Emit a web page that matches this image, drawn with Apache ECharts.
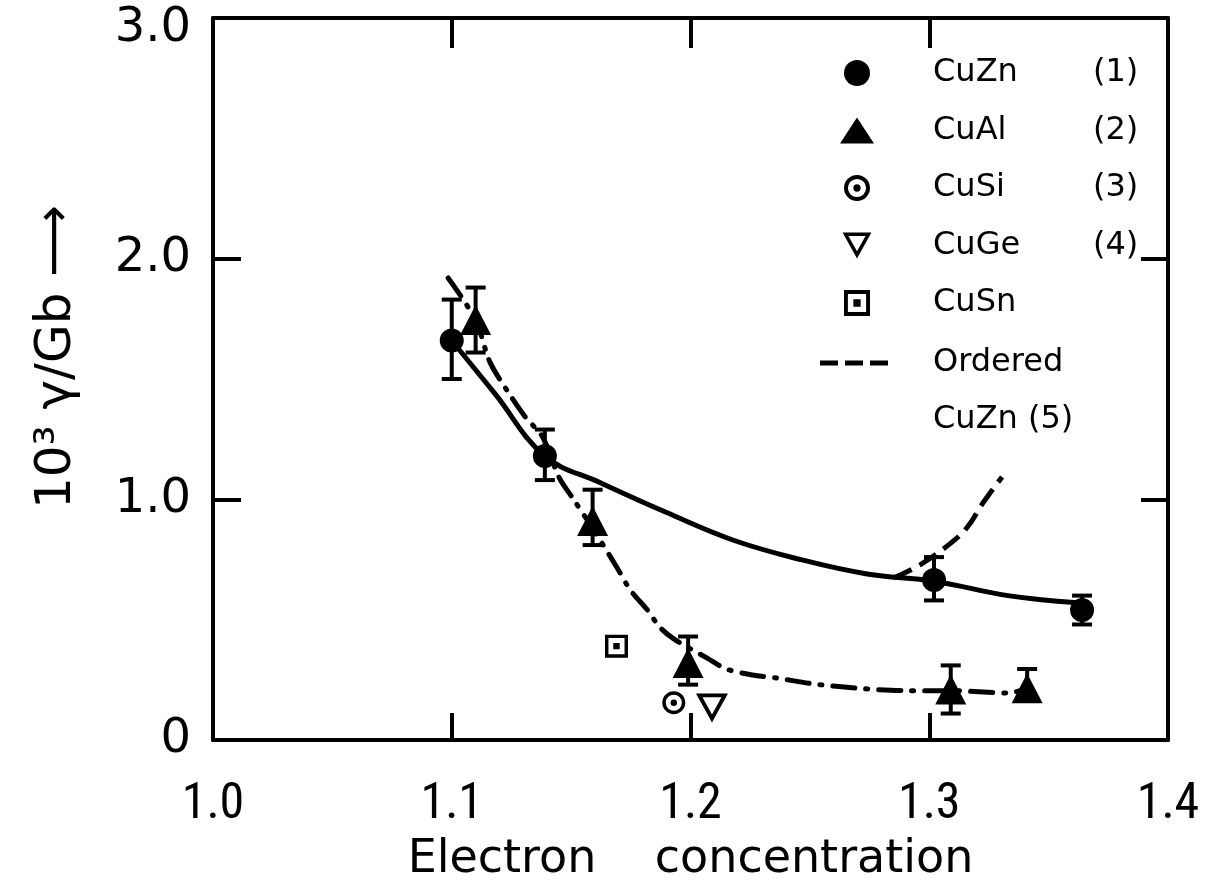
<!DOCTYPE html>
<html>
<head>
<meta charset="utf-8">
<script src="https://cdn.jsdelivr.net/npm/echarts@6/dist/echarts.min.js"></script>
<style>
  html, body { margin: 0; padding: 0; background: #fff; }
  #chart { width: 1209px; height: 886px; }
</style>
</head>
<body>
<div id="chart"></div>
<script>
// points: [electron concentration, 10^3 gamma/Gb]
var cuZnPts = [[1.100, 1.66], [1.139, 1.18], [1.302, 0.665], [1.364, 0.54]];
var cuZnErr = [[1.100, 1.83, 1.50], [1.139, 1.29, 1.08], [1.302, 0.76, 0.58], [1.364, 0.60, 0.48]];
var cuAlPts = [[1.110, 1.745], [1.159, 0.91], [1.199, 0.32], [1.309, 0.21], [1.341, 0.215]];
var cuAlErr = [[1.110, 1.88, 1.61], [1.159, 1.04, 0.81], [1.199, 0.43, 0.23], [1.309, 0.31, 0.11], [1.341, 0.295, 0.19]];
var cuSiPts = [[1.193, 0.155]];
var cuGePts = [[1.209, 0.133]];
var cuSnPts = [[1.169, 0.39]];

// hand drawn curves
var cuZnFit = [[1.100, 1.66], [1.118, 1.44], [1.139, 1.18], [1.162, 1.07],
  [1.190, 0.945], [1.218, 0.83], [1.246, 0.75], [1.274, 0.69], [1.302, 0.66], [1.333, 0.60], [1.362, 0.57]];
var cuAlFit = [[1.0985, 1.92], [1.110, 1.745], [1.116, 1.57], [1.124, 1.44], [1.131, 1.34], [1.138, 1.26],
  [1.145, 1.09], [1.151, 1.00], [1.159, 0.88], [1.169, 0.72], [1.175, 0.62], [1.182, 0.54], [1.187, 0.47],
  [1.193, 0.42], [1.207, 0.34], [1.215, 0.295], [1.226, 0.27], [1.236, 0.258], [1.250, 0.235],
  [1.270, 0.215], [1.290, 0.205], [1.309, 0.205], [1.333, 0.195], [1.341, 0.215]];
var orderedFit = [[1.285, 0.673], [1.296, 0.727], [1.309, 0.818], [1.316, 0.885], [1.3225, 0.985], [1.3305, 1.093]];

var xTickLabels = ['1.0', '1.1', '1.2', '1.3', '1.4'];
var yTickLabels = ['0', '1.0', '2.0', '3.0'];

var names = ['CuZn (1)', 'CuAl (2)', 'CuSi (3)', 'CuGe (4)', 'CuSn'];
var ordName = 'Ordered CuZn (5)';

// ring with dot, hollow down triangle, square with dot, three dashes
var ringDot = 'path://M50,0 A50,50 0 1,1 50,100 A50,50 0 1,1 50,0 Z M50,15 A35,35 0 1,0 50,85 A35,35 0 1,0 50,15 Z M50,36 A14,14 0 1,1 50,64 A14,14 0 1,1 50,36 Z';
var hollowDown = 'path://M0,0 L100,0 L50,90 Z M20.4,12 L50,65.3 L79.6,12 Z';
var squareDot = 'path://M0,0 H100 V100 H0 Z M15,15 V85 H85 V15 Z M36,36 H64 V64 H36 Z';
var dashIcon = 'path://M0,0 H18 V5 H0 Z M25,0 H43 V5 H25 Z M50,0 H68 V5 H50 Z';

var font = 'DejaVu Sans';
var narrow = '"Liberation Sans Narrow", "Roboto Condensed", "Liberation Sans", sans-serif';

function errRender(params, api) {
  var x = api.value(0);
  var top = api.coord([x, api.value(1)]);
  var bot = api.coord([x, api.value(2)]);
  var w = 10;
  var st = { stroke: '#000', lineWidth: 4 };
  return {
    type: 'group',
    children: [
      { type: 'line', shape: { x1: top[0], y1: top[1], x2: bot[0], y2: bot[1] }, style: st },
      { type: 'line', shape: { x1: top[0] - w, y1: top[1], x2: top[0] + w, y2: top[1] }, style: st },
      { type: 'line', shape: { x1: bot[0] - w, y1: bot[1], x2: bot[0] + w, y2: bot[1] }, style: st }
    ]
  };
}

function legendFmt(name) {
  if (name === ordName) return '{n| }\n{n|Ordered}\n{n|CuZn (5)}';
  var m = name.match(/^(\S+) (\(\d\))$/);
  return m ? '{n|' + m[1] + '}{k|' + m[2] + '}' : '{n|' + name + '}';
}

var legendText = {
  fontSize: 32, fontFamily: font, color: '#000',
  rich: {
    n: { fontSize: 32, fontFamily: font, color: '#000', width: 160, lineHeight: 57 },
    k: { fontSize: 32, fontFamily: font, color: '#000', lineHeight: 57 }
  }
};

var axisBase = {
  type: 'value', min: 1.0, max: 1.4, interval: 0.1,
  axisLine: { show: true, onZero: false, lineStyle: { color: '#000', width: 4 } },
  splitLine: { show: false }
};

var dom = document.getElementById('chart');
var myChart = echarts.init(dom);
var option = {
  animation: false,
  backgroundColor: '#fff',
  grid: { left: 213, right: 41, top: 18, bottom: 146, containLabel: false, outerBoundsMode: 'none' },
  legend: [{
    data: names,
    orient: 'vertical',
    left: 840, top: 57, padding: 0,
    itemWidth: 34, itemHeight: 26, itemGap: 25.5,
    selectedMode: false,
    formatter: legendFmt,
    textStyle: Object.assign({ padding: [0, 0, 0, 54] }, legendText)
  }, {
    data: [{ name: ordName, icon: dashIcon }],
    orient: 'vertical',
    left: 820, top: 290, padding: 0,
    itemWidth: 68, itemHeight: 5,
    selectedMode: false,
    formatter: legendFmt,
    textStyle: Object.assign({ padding: [0, 0, 0, 40] }, legendText)
  }],
  xAxis: [Object.assign({}, axisBase, {
    position: 'bottom',
    name: 'Electron    concentration',
    nameLocation: 'middle', nameGap: 97,
    nameTextStyle: { fontSize: 46, fontFamily: font, color: '#000' },
    axisTick: { inside: true, length: 27, lineStyle: { color: '#000', width: 4 } },
    axisLabel: {
      margin: 40, fontSize: 50, fontFamily: narrow, color: '#000',
      formatter: function (v) { return xTickLabels[Math.round((v - 1) * 10)]; }
    }
  }), Object.assign({}, axisBase, {
    position: 'top',
    axisTick: { inside: true, length: 30, lineStyle: { color: '#000', width: 4 } },
    axisLabel: { show: false }
  })],
  yAxis: [{
    type: 'value', min: 0, max: 3, interval: 1, position: 'left',
    name: '10³ γ/Gb ⟶',
    nameLocation: 'middle', nameGap: 131,
    nameTextStyle: { fontSize: 50, fontFamily: font, color: '#000', padding: [0, 0, 0, 44] },
    axisLine: { show: true, onZero: false, lineStyle: { color: '#000', width: 4 } },
    axisTick: { inside: true, length: 28, lineStyle: { color: '#000', width: 4 } },
    axisLabel: {
      margin: 22, fontSize: 48, fontFamily: font, color: '#000',
      formatter: function (v) {
        var i = Math.round(v);
        return i === 3 ? '{t|' + yTickLabels[i] + '}' : yTickLabels[i];
      },
      rich: { t: { fontSize: 48, fontFamily: font, color: '#000', padding: [22, 0, 0, 0] } }
    },
    splitLine: { show: false }
  }, {
    type: 'value', min: 0, max: 3, interval: 1, position: 'right',
    axisLine: { show: true, onZero: false, lineStyle: { color: '#000', width: 4 } },
    axisTick: { inside: true, length: 27, lineStyle: { color: '#000', width: 4 } },
    axisLabel: { show: false },
    splitLine: { show: false }
  }],
  series: [
    {
      name: 'CuZn fit', type: 'line', data: cuZnFit, smooth: 0.4, symbol: 'none', z: 2,
      lineStyle: { color: '#000', width: 5 }
    },
    {
      name: 'CuAl fit', type: 'line', data: cuAlFit, smooth: 0.3, symbol: 'none', z: 2,
      lineStyle: { color: '#000', width: 5, type: [22, 11, 2, 11], cap: 'round' }
    },
    {
      name: ordName, type: 'line', data: orderedFit, smooth: 0.4, symbol: 'none', z: 2,
      itemStyle: { color: '#000' },
      lineStyle: { color: '#000', width: 5, type: [20, 9] }
    },
    { name: 'CuZn err', type: 'custom', data: cuZnErr, renderItem: errRender, encode: { x: 0, y: [1, 2] }, z: 3 },
    { name: 'CuAl err', type: 'custom', data: cuAlErr, renderItem: errRender, encode: { x: 0, y: [1, 2] }, z: 3 },
    {
      name: names[0], type: 'scatter', data: cuZnPts, symbol: 'circle', symbolSize: 24, z: 4,
      itemStyle: { color: '#000', opacity: 1 }
    },
    {
      name: names[1], type: 'scatter', data: cuAlPts, symbol: 'triangle', symbolSize: [31, 30], z: 4,
      itemStyle: { color: '#000', opacity: 1 }
    },
    {
      name: names[2], type: 'scatter', data: cuSiPts, symbol: ringDot, symbolSize: 23, z: 4,
      itemStyle: { color: '#000', opacity: 1 }
    },
    {
      name: names[3], type: 'scatter', data: cuGePts, symbol: hollowDown, symbolSize: [32, 29], z: 4,
      itemStyle: { color: '#000', opacity: 1 }
    },
    {
      name: names[4], type: 'scatter', data: cuSnPts, symbol: squareDot, symbolSize: 23, z: 4,
      itemStyle: { color: '#000', opacity: 1 }
    }
  ]
};
myChart.setOption(option, true);
</script>
</body>
</html>
